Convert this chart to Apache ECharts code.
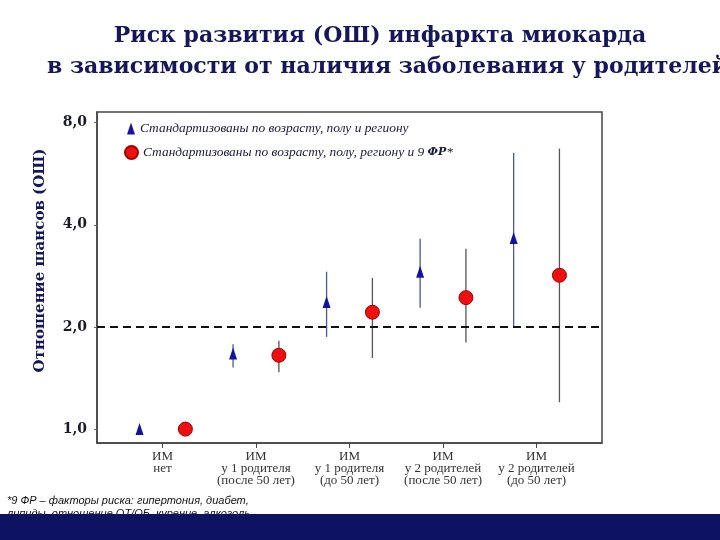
<!DOCTYPE html>
<html>
<head>
<meta charset="utf-8">
<script src="https://cdn.jsdelivr.net/npm/echarts@6/dist/echarts.min.js"></script>
<style>html,body{margin:0;padding:0;background:#fff}#c{width:720px;height:540px}</style>
</head>
<body>
<div id="c"></div>
<script>
// ---- data ----
var categories = ['ИМ\nнет', 'ИМ\nу 1 родителя\n(после 50 лет)', 'ИМ\nу 1 родителя\n(до 50 лет)', 'ИМ\nу 2 родителей\n(после 50 лет)', 'ИМ\nу 2 родителей\n(до 50 лет)'];
var seriesNames = ['Стандартизованы по возрасту, полу и региону', 'Стандартизованы по возрасту, полу, региону и 9 ФР*'];
var triValue = [1.0, 1.67, 2.37, 2.91, 3.66];
var triLow   = [null, 1.52, 1.87, 2.28, 2.01];
var triHigh  = [null, 1.78, 2.91, 3.64, 6.52];
var circValue = [1.0, 1.65, 2.21, 2.44, 2.84];
var circLow   = [null, 1.47, 1.62, 1.80, 1.20];
var circHigh  = [null, 1.82, 2.79, 3.40, 6.71];
var yTicks = [1, 2, 4, 8];
var refLine = 2;

// ---- build ----
var OFF = 0.245;
function pts(vals, off) { return vals.map(function (v, i) { return [i + off, v]; }); }
function bars(lo, hi, off) {
  var out = [];
  lo.forEach(function (l, i) { if (l != null) out.push([i + off, l, hi[i]]); });
  return out;
}
function barRender(color) {
  return function (params, api) {
    var p1 = api.coord([api.value(0), api.value(1)]);
    var p2 = api.coord([api.value(0), api.value(2)]);
    return { type: 'line', shape: { x1: p1[0], y1: p1[1], x2: p2[0], y2: p2[1] },
      style: { stroke: color, lineWidth: 1.3 } };
  };
}
var chart = echarts.init(document.getElementById('c'));
var legendText = { fontFamily: 'Liberation Serif', fontStyle: 'italic', fontSize: 13.4, color: '#1a1a3a',
  rich: { n: { fontFamily: 'Liberation Serif', fontStyle: 'italic', fontSize: 13.4, color: '#1a1a3a' },
          b: { fontFamily: 'DejaVu Serif', fontWeight: 'bold', fontSize: 11, color: '#1a1a3a' } } };
function legendFmt(name) {
  var i = name.indexOf('ФР*');
  if (i < 0) return '{n|' + name + '}';
  return '{n|' + name.slice(0, i) + '}{b|ФР}{n|*}';
}
chart.setOption({
  animation: false,
  backgroundColor: '#ffffff',
  title: [
    { text: 'Риск развития (ОШ) инфаркта миокарда', left: 375, top: 20, textAlign: 'center',
      textStyle: { fontFamily: 'DejaVu Serif', fontWeight: 'bold', fontSize: 22, color: '#16165a' } },
    { text: 'в зависимости от наличия заболевания у родителей', left: 42, top: 51,
      textStyle: { fontFamily: 'DejaVu Serif', fontWeight: 'bold', fontSize: 22, color: '#16165a' } }
  ],
  legend: [
    { data: [{ name: seriesNames[0], icon: 'triangle' }], left: 127, top: 122, padding: 0, itemWidth: 8, itemHeight: 12,
      selectedMode: false, formatter: legendFmt, textStyle: legendText },
    { data: [{ name: seriesNames[1], icon: 'circle' }], left: 124, top: 145, padding: 0, itemWidth: 13, itemHeight: 13,
      selectedMode: false, formatter: legendFmt, textStyle: legendText }
  ],
  grid: { left: 97, top: 112, right: 118, bottom: 97, show: true, borderColor: '#444', borderWidth: 1.5, backgroundColor: 'transparent' },
  xAxis: {
    type: 'value', min: -0.7, max: 4.7,
    axisLine: { show: true, onZero: false, lineStyle: { color: '#444', width: 1.5 } },
    axisTick: { show: true, customValues: [0, 1, 2, 3, 4], length: 5, lineStyle: { color: '#444' } },
    splitLine: { show: false },
    axisLabel: { customValues: [0, 1, 2, 3, 4], margin: 8, fontFamily: 'Liberation Serif', fontSize: 13, lineHeight: 12,
      color: '#333', formatter: function (v) { return categories[Math.round(v)]; } }
  },
  yAxis: {
    type: 'log', logBase: 2, min: 0.91, max: 8.6,
    name: 'Отношение шансов (ОШ)', nameLocation: 'middle', nameGap: 49, nameRotate: 90,
    nameTextStyle: { fontFamily: 'DejaVu Serif', fontWeight: 'bold', fontSize: 15, color: '#16165a', padding: [0, 0, 0, 34] },
    axisLine: { show: true, onZero: false, lineStyle: { color: '#444', width: 1.5 } },
    axisTick: { show: true, customValues: yTicks, length: 3, lineStyle: { color: '#666' } },
    splitLine: { show: false },
    axisLabel: { customValues: yTicks, margin: 10, fontFamily: 'DejaVu Serif', fontWeight: 'bold', fontSize: 14,
      color: '#1a1a2a', verticalAlign: 'middle', formatter: function (v) { return Number(v).toFixed(1).replace('.', ','); } }
  },
  graphic: [
    { type: 'text', left: 7, top: 495, style: { text: '*9 ФР – факторы риска: гипертония, диабет,', font: 'italic 11px "Liberation Sans"', fill: '#111' } },
    { type: 'text', left: 7, top: 508, style: { text: 'липиды, отношение ОТ/ОБ, курение, алкоголь.', font: 'italic 11px "Liberation Sans"', fill: '#111' } },
    { type: 'rect', left: 0, top: 514, z: 100, shape: { width: 720, height: 26 }, style: { fill: '#0d1361' } }
  ],
  series: [
    { type: 'custom', name: 'triBars', renderItem: barRender('#4a5890'), data: bars(triLow, triHigh, -OFF), z: 1, silent: true },
    { type: 'custom', name: 'circBars', renderItem: barRender('#555555'), data: bars(circLow, circHigh, OFF), z: 1, silent: true },
    { type: 'scatter', name: seriesNames[0], symbol: 'triangle', symbolSize: [8, 12], z: 5,
      itemStyle: { color: '#1212a0', opacity: 1 }, data: pts(triValue, -OFF),
      markLine: { silent: true, symbol: 'none', label: { show: false },
        lineStyle: { color: '#111', type: [8, 5], width: 2 }, data: [{ yAxis: refLine }] } },
    { type: 'scatter', name: seriesNames[1], symbol: 'circle', symbolSize: 14, z: 5,
      itemStyle: { color: '#ee1010', borderColor: '#a00000', borderWidth: 1, opacity: 1 }, data: pts(circValue, OFF) }
  ]
});
</script>
</body>
</html>
